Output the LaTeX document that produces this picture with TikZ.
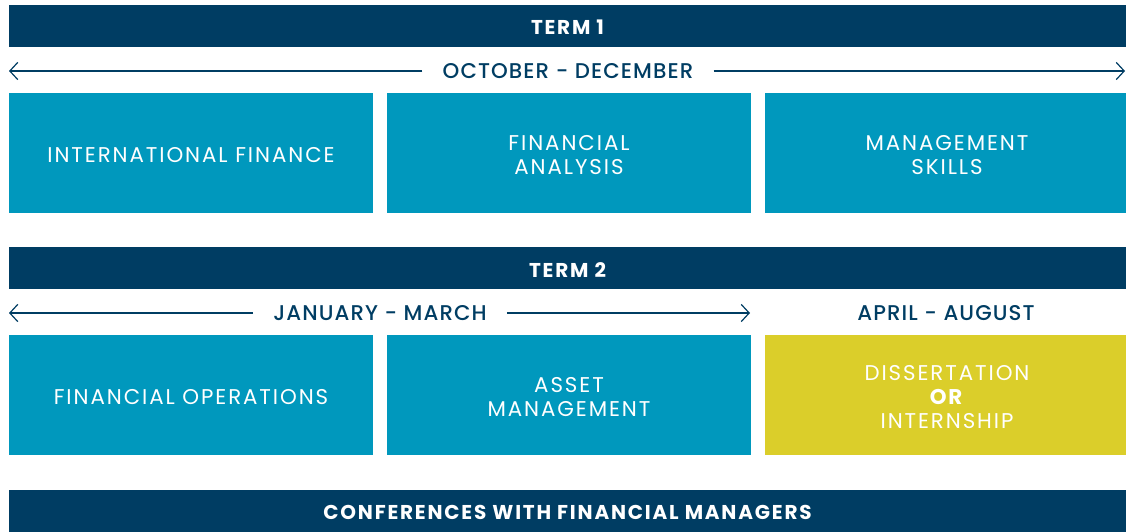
\documentclass[tikz,border=0pt]{standalone}
\usepackage{fontspec}
\setmainfont{Poppins}
\newfontfamily\boxfont{Poppins}[LetterSpace=9]
\newfontfamily\medfont{Poppins Medium}[LetterSpace=5]
\usetikzlibrary{arrows.meta}

\definecolor{navy}{RGB}{0,61,99}
\definecolor{tealblue}{RGB}{0,152,189}
\definecolor{mustard}{RGB}{219,206,42}

\begin{document}
\begin{tikzpicture}[x=0.75pt, y=-0.75pt,
  termbar/.style={fill=navy, text=white, font=\boxfont\bfseries\fontsize{15}{18}\selectfont,
    minimum width=837.75pt, minimum height=31.5pt, inner sep=0pt, text height=13.5pt},
  course/.style={fill=tealblue, text=white, font=\boxfont\fontsize{16}{18}\selectfont,
    align=center, minimum width=273pt, minimum height=90pt, inner sep=0pt, text height=14pt},
  twolines/.style={course, text height=32pt},
  threelines/.style={course, text height=50pt},
  period/.style={text=navy, font=\medfont\fontsize{16}{18}\selectfont,
    inner xsep=15pt, inner ysep=0pt},
  spanarrow/.style={draw=navy, line width=0.9pt, -{Straight Barb[length=6pt, width=13pt]}}
]

\useasboundingbox (0,0) rectangle (1126,531);

% Term 1
\node[termbar] (term1) at (567.5,26) {TERM 1};

\node[period] (oct) at (568,71) {OCTOBER - DECEMBER};
\coordinate (octL) at (9,71);
\coordinate (octR) at (1125,71);
\draw[spanarrow] (oct.west) -- (octL);
\draw[spanarrow] (oct.east) -- (octR);

\node[course] (intfin) at (191,153) {INTERNATIONAL FINANCE};
\node[twolines] (finana) at (569,153) {FINANCIAL\\ANALYSIS};
\node[twolines] (mgmt) at (947,153) {MANAGEMENT\\SKILLS};

% Term 2
\node[termbar] (term2) at (567.5,268) {TERM 2};

\node[period] (jan) at (380,313) {JANUARY - MARCH};
\coordinate (janL) at (9,313);
\coordinate (janR) at (750,313);
\draw[spanarrow] (jan.west) -- (janL);
\draw[spanarrow] (jan.east) -- (janR);

\node[period] (apr) at (946,313) {APRIL - AUGUST};

\node[course] (finops) at (191,395) {FINANCIAL OPERATIONS};
\node[twolines] (assetm) at (569,395) {ASSET\\MANAGEMENT};
\node[threelines, fill=mustard] (diss) at (947,395) {DISSERTATION\\\textbf{OR}\\INTERNSHIP};

% Conferences
\node[termbar] (conf) at (567.5,511) {CONFERENCES WITH FINANCIAL MANAGERS};

\end{tikzpicture}
\end{document}
